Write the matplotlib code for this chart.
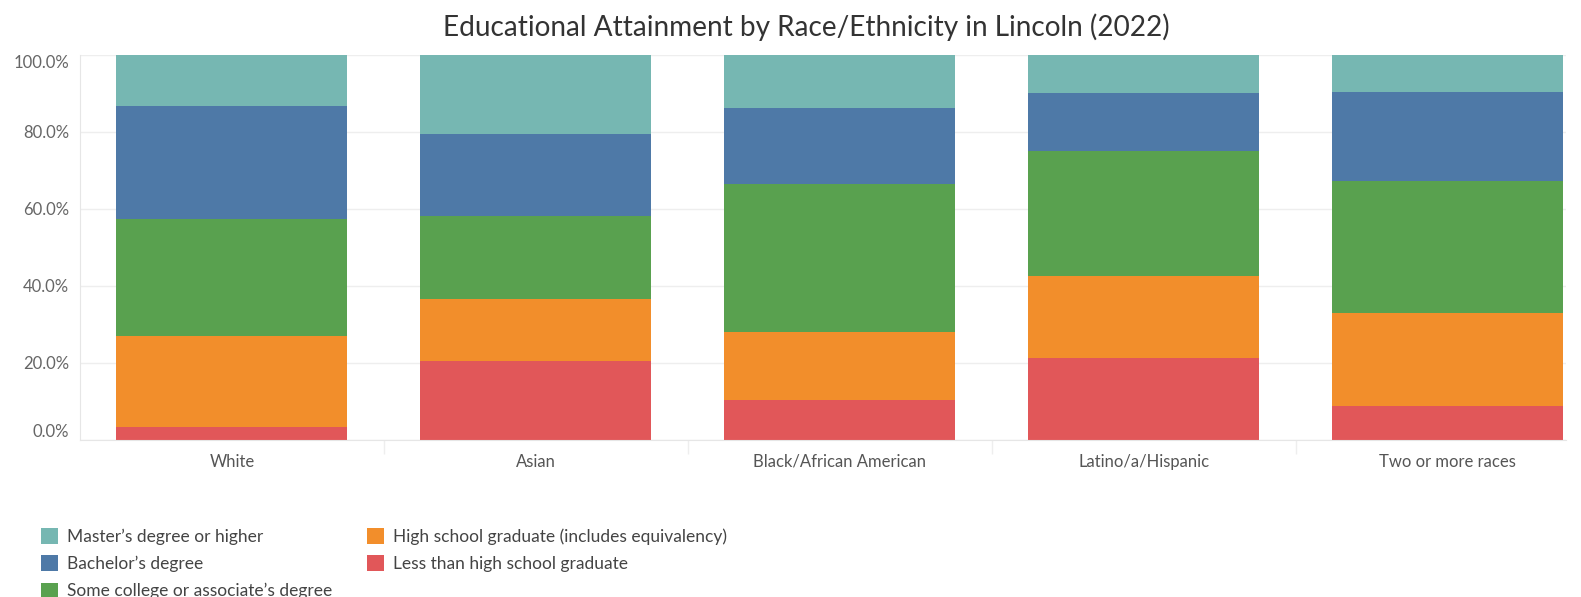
import numpy as np
import matplotlib.pyplot as plt

plt.rcParams['font.family'] = ['Lato', 'DejaVu Sans']

groups = ['White', 'Asian', 'Black/African American', 'Latino/a/Hispanic', 'Two or more races']
levels = ['Less than high school graduate',
          'High school graduate (includes equivalency)',
          "Some college or associate\u2019s degree",
          "Bachelor\u2019s degree",
          "Master\u2019s degree or higher"]
colors = ['#E15759', '#F28E2B', '#59A14F', '#4E79A7', '#76B7B2']

# percent of each group, bottom to top
less_hs = [3.5, 20.5, 10.4, 21.4, 8.7]
hs_grad = [23.5, 16.1, 17.6, 21.2, 24.2]
some_college = [30.4, 21.6, 38.5, 32.5, 34.3]
bachelor = [29.3, 21.2, 19.8, 15.0, 23.3]
master = [13.3, 20.6, 13.7, 9.9, 9.5]

series = [less_hs, hs_grad, some_college, bachelor, master]

fig = plt.figure(figsize=(15.81, 5.97), dpi=100)
ax = fig.add_axes([0.0506, 0.263, 0.9399, 0.645])

x = np.arange(len(groups))
bottom = np.zeros(len(groups))
handles = []
for vals, lab, c in zip(series, levels, colors):
    b = ax.bar(x, vals, 0.76, bottom=bottom, color=c, label=lab, zorder=2)
    handles.append(b)
    bottom += np.array(vals)

ax.set_xlim(-0.5, 4.39)
ax.set_ylim(0, 100)
ax.set_yticks([0, 20, 40, 60, 80, 100])
ax.set_yticklabels(['0.0%', '20.0%', '40.0%', '60.0%', '80.0%', '100.0%'])
ylabs = ax.get_yticklabels()
ylabs[0].set_va('bottom')
ylabs[-1].set_va('top')
ax.tick_params(axis='y', length=0, pad=8, labelsize=12, labelcolor='#666666')
ax.set_xticks(x)
ax.set_xticklabels(groups)
ax.tick_params(axis='x', length=0, pad=10, labelsize=12, labelcolor='#555555')
ax.set_xticks(x[:-1] + 0.5, minor=True)
ax.tick_params(axis='x', which='minor', length=10, color='#eeeeee', width=1)

ax.grid(axis='y', color='#eeeeee', linewidth=1, zorder=0)
for s in ['top', 'right']:
    ax.spines[s].set_visible(False)
ax.spines['left'].set_color('#e6e6e6')
ax.spines['bottom'].set_color('#e6e6e6')

fig.suptitle('Educational Attainment by Race/Ethnicity in Lincoln (2022)',
             x=0.51, y=0.978, fontsize=20.2, color='#333333')

order = [4, 3, 2, 1, 0]
fig.legend([handles[i] for i in order], [levels[i] for i in order],
           ncol=2, loc='lower left', bbox_to_anchor=(0.016, -0.030),
           frameon=False, fontsize=12.5, handlelength=1.0, handleheight=1.0,
           handletextpad=0.5, columnspacing=2.0, labelspacing=0.6,
           labelcolor='#444444')

fig.savefig('out.png', dpi=100)
